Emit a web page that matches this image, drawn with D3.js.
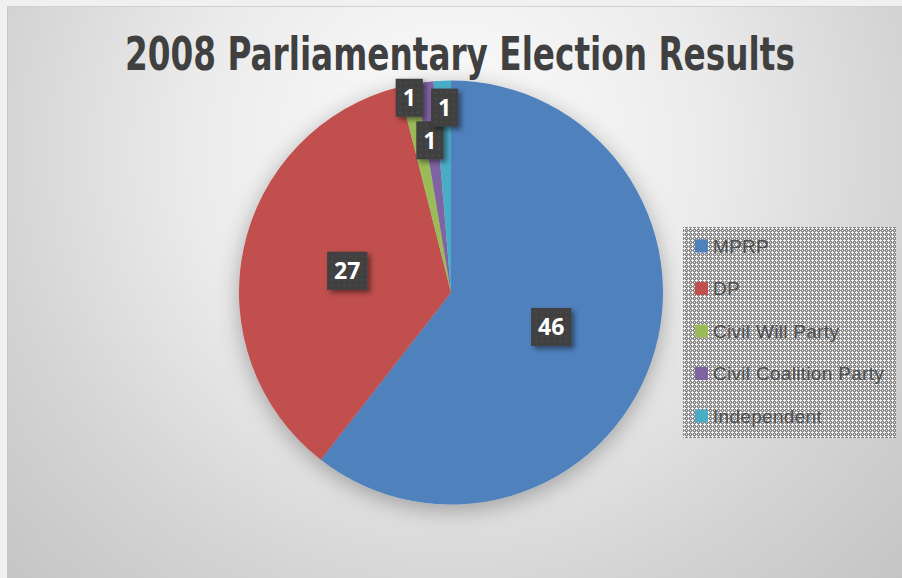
<!DOCTYPE html>
<html>
<head>
<meta charset="utf-8">
<script src="https://cdn.jsdelivr.net/npm/d3@7/dist/d3.min.js"></script>
<style>
  html, body { margin: 0; padding: 0; background: #f0f0f0; }
  svg { display: block; }
</style>
</head>
<body>
<svg id="chart" width="902" height="578"></svg>
<script>
// Seats won in the 2008 parliamentary election
const parties = ["MPRP", "DP", "Civil Will Party", "Civil Coalition Party", "Independent"];
const seats = [46, 27, 1, 1, 1];
const partyColors = ["#4F81BD", "#C0504D", "#9BBB59", "#8064A2", "#4BACC6"];
const chartTitle = "2008 Parliamentary Election Results";

// hand-placed offsets for the crowded small-slice labels (px, from centroid)
const labelNudge = [[0, 0], [0, 0], [-20, -91], [-8, -47], [-2, -79]];

const W = 902, H = 578;
const svg = d3.select("#chart");
const defs = svg.append("defs");

// background gradient
const bg = defs.append("radialGradient").attr("id", "bgGrad")
  .attr("gradientUnits", "userSpaceOnUse")
  .attr("cx", 451).attr("cy", 150).attr("r", 650);
[[0, "#fdfdfd"], [0.4, "#ebebeb"], [0.7, "#d4d4d4"], [1, "#c2c2c2"]]
  .forEach(([o, c]) => bg.append("stop").attr("offset", o).attr("stop-color", c));

// soft shadow under the pie
const pieShadow = defs.append("filter").attr("id", "pieShadow")
  .attr("x", "-20%").attr("y", "-20%").attr("width", "140%").attr("height", "140%");
pieShadow.append("feDropShadow").attr("dx", 0).attr("dy", 5)
  .attr("stdDeviation", 11).attr("flood-color", "#000").attr("flood-opacity", 0.3);

// shadow for label boxes
const boxShadow = defs.append("filter").attr("id", "boxShadow")
  .attr("x", "-40%").attr("y", "-40%").attr("width", "180%").attr("height", "180%");
boxShadow.append("feDropShadow").attr("dx", 3).attr("dy", 3)
  .attr("stdDeviation", 2.5).attr("flood-color", "#000").attr("flood-opacity", 0.45);

// dotted texture of label boxes
const dots = defs.append("pattern").attr("id", "dotTex")
  .attr("patternUnits", "userSpaceOnUse").attr("width", 6).attr("height", 6);
dots.append("rect").attr("width", 6).attr("height", 6).attr("fill", "#3f3f3f");
dots.append("circle").attr("cx", 3).attr("cy", 3).attr("r", 1.3).attr("fill", "#4a4a4a");

// crosshatch fill of the legend
const hatch = defs.append("pattern").attr("id", "hatch")
  .attr("patternUnits", "userSpaceOnUse").attr("width", 4).attr("height", 4);
hatch.append("rect").attr("width", 4).attr("height", 4).attr("fill", "#8a8a8a");
[[1, 0], [0, 1], [1, 1], [2, 1], [1, 2], [3, 3]].forEach(([x, y]) =>
  hatch.append("rect").attr("x", x).attr("y", y).attr("width", 1).attr("height", 1)
    .attr("fill", "#f4f4f4").attr("shape-rendering", "crispEdges"));

// chart area
svg.append("rect").attr("x", 7).attr("y", 6).attr("width", W - 7).attr("height", H - 6)
  .attr("fill", "url(#bgGrad)");
svg.append("line").attr("x1", 7.5).attr("y1", 6).attr("x2", 7.5).attr("y2", H)
  .attr("stroke", "#c8c8c8");
svg.append("line").attr("x1", 7).attr("y1", 6.5).attr("x2", W).attr("y2", 6.5)
  .attr("stroke", "#d0d0d0");

// pie
const cx = 451, cy = 292.5, R = 212;
const pie = d3.pie().sort(null).value(d => d)(seats);
const arc = d3.arc().innerRadius(0).outerRadius(R);
const labelArc = d3.arc().innerRadius(R * 0.5).outerRadius(R * 0.5);

const color = d3.scaleOrdinal().domain(parties).range(partyColors);

const g = svg.append("g").attr("transform", `translate(${cx},${cy})`);
g.append("g").attr("filter", "url(#pieShadow)")
  .selectAll("path").data(pie).join("path")
  .attr("d", arc)
  .attr("fill", (d, i) => color(parties[i]));

// value labels
const labels = g.selectAll("g.lbl").data(pie).join("g").attr("class", "lbl")
  .attr("transform", (d, i) => {
    const [x, y] = labelArc.centroid(d);
    return `translate(${x + labelNudge[i][0]},${y + labelNudge[i][1]})`;
  });
labels.each(function (d) {
  const sel = d3.select(this);
  const t = sel.append("text")
    .attr("text-anchor", "middle").attr("dy", "0.36em")
    .attr("font-family", "'Open Sans', 'Liberation Sans', sans-serif")
    .attr("font-weight", "bold").attr("font-size", 23).attr("fill", "#ffffff")
    .text(d.data);
  const w = t.node().getComputedTextLength() + 14, h = 38;
  sel.insert("rect", "text")
    .attr("x", -w / 2).attr("y", -h / 2).attr("width", w).attr("height", h)
    .attr("fill", "url(#dotTex)").attr("filter", "url(#boxShadow)");
});

// legend
const lg = svg.append("g").attr("transform", "translate(683,227)");
lg.append("rect").attr("width", 213).attr("height", 211).attr("fill", "url(#hatch)");
const rows = lg.selectAll("g.row").data(parties).join("g").attr("class", "row")
  .attr("transform", (d, i) => `translate(12,${19 + i * 42.5})`);
rows.append("rect").attr("x", 0).attr("y", -6.5).attr("width", 13).attr("height", 13)
  .attr("fill", d => color(d));
rows.append("text").attr("x", 18).attr("dy", "0.36em")
  .attr("font-family", "'Liberation Sans', Arial, sans-serif")
  .attr("font-size", 19).attr("letter-spacing", 0.3).attr("fill", "#4f4f4f")
  .text(d => d);

// title: a condensed bold face, scaled to span 670px with a ~33px cap height
const titleG = svg.append("g");
const title = titleG.append("text")
  .attr("text-anchor", "middle")
  .attr("font-family", "'Liberation Sans Narrow', 'DejaVu Sans Condensed', 'Roboto', sans-serif")
  .attr("font-weight", "bold")
  .attr("font-size", 46)
  .attr("fill", "#404040")
  .text(chartTitle);
const natural = title.node().getComputedTextLength();
const sx = 670 / natural;
titleG.attr("transform", `translate(460,70) scale(${sx},1)`);
</script>
</body>
</html>
